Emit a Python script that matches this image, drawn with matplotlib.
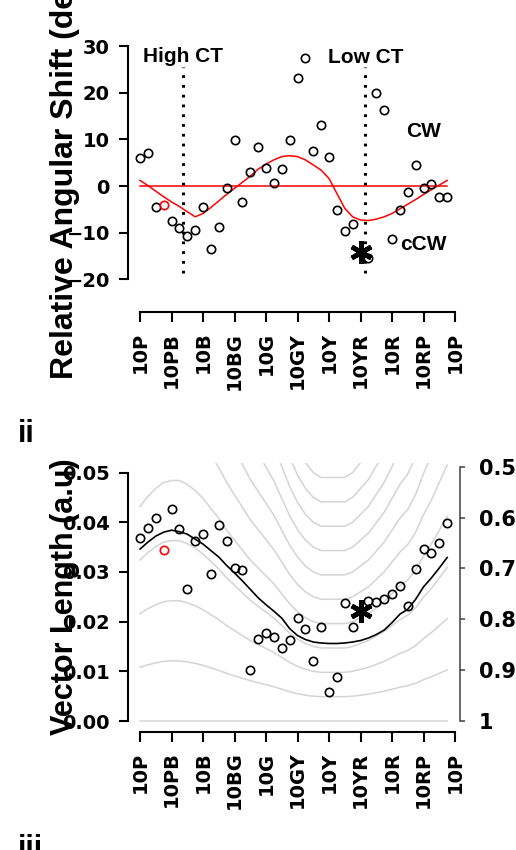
import numpy as np
import matplotlib
matplotlib.use("Agg")
import matplotlib.pyplot as plt

# ---------------- data ----------------
hue_labels = ['10P', '10PB', '10B', '10BG', '10G', '10GY', '10Y', '10YR', '10R', '10RP', '10P']
hue_tick_pos = [0, 4, 8, 12, 16, 20, 24, 28, 32, 36, 40]
hue_index = list(range(40))

# panel i : relative angular shift (deg)
angular_shift = [6.1, 7.1, -4.4, -4.1, -7.6, -9.1, -10.8, -9.4, -4.6, -13.4,
                 -8.8, -0.5, 9.9, -3.5, 3.0, 8.4, 3.9, 0.7, 3.6, 9.8,
                 23.2, 27.4, 7.4, 13.0, 6.3, -5.2, -9.6, -8.1, -14.1, -15.4,
                 20.0, 16.3, -11.4, -5.2, -1.3, 4.6, -0.5, 0.5, -2.4, -2.4]
shift_fit = [1.2, 0.1, -1.1, -2.3, -3.4, -4.4, -5.5, -6.6, -5.9, -4.6,
             -3.2, -1.8, -0.5, 0.8, 2.1, 3.6, 4.7, 5.6, 6.3, 6.5,
             6.3, 5.6, 4.5, 3.4, 1.6, -1.6, -4.8, -6.6, -7.3, -7.4,
             -7.1, -6.6, -5.9, -4.9, -3.9, -2.9, -1.8, -0.8, 0.2, 1.2]
ct_positions = [5.5, 28.6]
ct_labels = ['High CT', 'Low CT']

# panel ii : vector length (a.u.)
vector_length = [0.0369, 0.0388, 0.0408, 0.0344, 0.0427, 0.0386, 0.0265, 0.0363, 0.0376, 0.0296,
                 0.0394, 0.0362, 0.0308, 0.0304, 0.0103, 0.0165, 0.0178, 0.0170, 0.0146, 0.0164,
                 0.0207, 0.0185, 0.0121, 0.0189, 0.0058, 0.0088, 0.0237, 0.0190, 0.0222, 0.0241,
                 0.0240, 0.0246, 0.0255, 0.0272, 0.0231, 0.0305, 0.0346, 0.0339, 0.0358, 0.0399]
length_fit = [0.0346, 0.0360, 0.0372, 0.0380, 0.0384, 0.0381, 0.0376, 0.0366, 0.0356, 0.0343,
              0.0330, 0.0313, 0.0298, 0.0282, 0.0265, 0.0248, 0.0234, 0.0221, 0.0207, 0.0186,
              0.0172, 0.0164, 0.0159, 0.0157, 0.0156, 0.0156, 0.0157, 0.0159, 0.0162, 0.0167,
              0.0174, 0.0183, 0.0198, 0.0215, 0.0225, 0.0245, 0.0270, 0.0288, 0.0308, 0.0329]
contour_profile = [0.0108, 0.0113, 0.0117, 0.0120, 0.0121, 0.0121, 0.0119, 0.0116, 0.0112, 0.0107,
                   0.0102, 0.0096, 0.0091, 0.0086, 0.0081, 0.0077, 0.0073, 0.0069, 0.0064, 0.0059,
                   0.0055, 0.0052, 0.0050, 0.0049, 0.0049, 0.0049, 0.0049, 0.0050, 0.0052, 0.0054,
                   0.0057, 0.0060, 0.0064, 0.0068, 0.0071, 0.0076, 0.0083, 0.0089, 0.0096, 0.0103]
contour_levels = [0, 1, 2, 3, 4, 5, 6, 7, 8, 9, 10, 11]
right_ticks = [0.5, 0.6, 0.7, 0.8, 0.9, 1.0]
right_labels = ['0.5', '0.6', '0.7', '0.8', '0.9', '1']

star_index = 28
red_index = 3

# ---------------- figure ----------------
W, H = 516, 850
fig = plt.figure(figsize=(W / 100, H / 100), dpi=100)

TICKFONT = dict(family='DejaVu Sans', weight='bold', size=14)
LABFONT = dict(family='Liberation Sans', weight='bold')


def px_axes(left, right, top, bottom):
    return fig.add_axes([left / W, 1 - bottom / H, (right - left) / W, (bottom - top) / H])


def style_axes(ax):
    ax.spines['top'].set_visible(False)
    ax.spines['right'].set_visible(False)
    for s in ('left', 'bottom'):
        ax.spines[s].set_linewidth(1.5)
    ax.tick_params(axis='y', direction='out', length=6.5, width=1.5, pad=6.5)
    ax.tick_params(axis='x', direction='out', length=7.2, width=1.5, pad=7)
    ax.set_xticks(hue_tick_pos)
    ax.set_xticklabels(hue_labels, rotation=90, fontdict=TICKFONT)
    ax.spines['bottom'].set_bounds(0, 40)
    ax.patch.set_alpha(0)


def scatter_points(ax, values):
    xs = [i for i in hue_index if i not in (star_index, red_index)]
    ys = [values[i] for i in xs]
    ax.plot(xs, ys, 'o', mfc='none', mec='black', ms=6, mew=1.2, zorder=5)
    ax.plot([red_index], [values[red_index]], 'o', mfc='none', mec='red', ms=6, mew=1.2, zorder=5)
    ax.plot([star_index], [values[star_index]], marker=(6, 2, 0), color='black',
            ms=16, mew=3.4, zorder=6)


# ---- panel i ----
ax1 = px_axes(128, 457.4, 32, 312)
style_axes(ax1)
ax1.set_xlim(-1.524, 40.3)
ax1.set_ylim(-27, 33)
ax1.spines['left'].set_bounds(-20, 30)
ax1.set_yticks([-20, -10, 0, 10, 20, 30])
ax1.set_yticklabels(['\u221220', '\u221210', '0', '10', '20', '30'], fontdict=TICKFONT)

for xp in ct_positions:
    ax1.plot([xp, xp], [-18.6, 25.5], color='black', lw=2.2, linestyle=(0, (0.9, 2.3)),
             solid_capstyle='butt', dash_capstyle='butt', zorder=2)
ax1.plot([0, 39], [0, 0], color='red', lw=1.1, zorder=3)
ax1.plot(hue_index, shift_fit, color='red', lw=1.1, zorder=3)
scatter_points(ax1, angular_shift)

ax1.text(ct_positions[0], 26.6, ct_labels[0], ha='center', va='baseline', fontsize=15, **LABFONT)
ax1.text(ct_positions[1], 26.3, ct_labels[1], ha='center', va='baseline', fontsize=15, **LABFONT)
ax1.text(36, 10.4, 'CW', ha='center', va='baseline', fontsize=15, **LABFONT)
ax1.text(36, -13.7, 'cCW', ha='center', va='baseline', fontsize=15, **LABFONT)

fig.text(73 / W, 1 - 170 / H, 'Relative Angular Shift (deg)', rotation=90,
         rotation_mode='anchor', ha='center', va='baseline', fontsize=23, **LABFONT)

# ---- panel ii ----
ax2 = px_axes(128, 460, 462.6, 731.7)
style_axes(ax2)
ax2.set_xlim(-1.524, 40.63)
ax2.set_ylim(-0.00215, 0.052)
ax2.spines['left'].set_bounds(0, 0.05)
ax2.set_yticks([0, 0.01, 0.02, 0.03, 0.04, 0.05])
ax2.set_yticklabels(['0.00', '0.01', '0.02', '0.03', '0.04', '0.05'], fontdict=TICKFONT)

for lvl in contour_levels:
    ax2.plot(hue_index, [lvl * p for p in contour_profile], color='#d4d4d4', lw=1.1, zorder=1)
ax2.plot(hue_index, length_fit, color='black', lw=1.2, zorder=3)
scatter_points(ax2, vector_length)

ax2r = ax2.twinx()
ax2r.set_ylim(1.021, 0.492)
for s in ('left', 'top', 'bottom'):
    ax2r.spines[s].set_visible(False)
ax2r.spines['right'].set_bounds(0.5, 1.0)
ax2r.spines['right'].set_color('#404040')
ax2r.spines['right'].set_linewidth(1.1)
ax2r.set_yticks(right_ticks)
ax2r.set_yticklabels(right_labels, fontdict=dict(TICKFONT, size=15))
ax2r.tick_params(axis='y', direction='out', length=3.6, width=1.1, color='#404040', pad=10)

fig.text(73 / W, 1 - 596.5 / H, 'Vector Length (a.u)', rotation=90,
         rotation_mode='anchor', ha='center', va='baseline', fontsize=22, **LABFONT)

# panel letters
fig.text(18 / W, 1 - 442 / H, 'ii', ha='left', va='baseline', fontsize=22, **LABFONT)
fig.text(18 / W, 1 - 857 / H, 'iii', ha='left', va='baseline', fontsize=22, **LABFONT)

fig.savefig('out.png', dpi=100)
